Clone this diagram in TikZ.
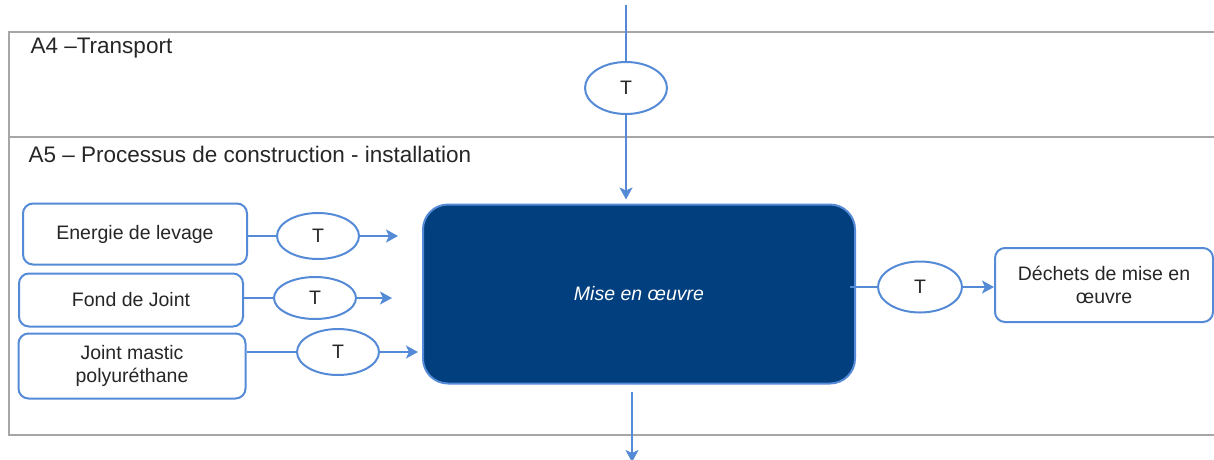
\documentclass[tikz,border=0pt]{standalone}
\usepackage{fontspec}
\setmainfont{Liberation Sans}
\usetikzlibrary{shapes.geometric,arrows.meta}
\definecolor{lineblue}{RGB}{85,138,214}
\definecolor{navy}{RGB}{1,63,126}
\definecolor{framegray}{RGB}{166,166,166}
\definecolor{txt}{RGB}{38,38,38}
\tikzset{
  every node/.style={font=\fontsize{19.5}{23}\selectfont, text=txt},
  heading/.style={anchor=west, font=\fontsize{22.5}{26}\selectfont},
  framel/.style={draw=framegray, line width=2pt},
  inbox/.style={draw=lineblue, line width=2pt, rounded corners=10pt, fill=white, align=center, inner sep=0pt},
  tell/.style={ellipse, draw=lineblue, line width=2pt, minimum width=82pt, minimum height=46pt, inner sep=0pt, fill=white},
  conn/.style={draw=lineblue, line width=2pt},
  arr/.style={conn, -{Stealth[length=12pt,width=13pt,inset=3pt]}},
}
\begin{document}
\begin{tikzpicture}[x=1pt,y=-1pt]
\useasboundingbox (0,0) rectangle (1214,459);
% frame
\draw[framel] (9,32) -- (1214,32);
\draw[framel] (9,137) -- (1214,137);
\draw[framel] (9,435) -- (1214,435);
\draw[framel] (9,31) -- (9,436);
\node[heading] (a4) at (27,48) {A4 --Transport};
\node[heading] (a5) at (25,154) {A5 -- Processus de construction - installation};
% main box
\node[draw=lineblue, line width=2pt, fill=navy, rounded corners=25pt, minimum width=432pt, minimum height=179pt, text=white, font=\fontsize{19.5}{23}\selectfont\itshape] (main) at (639,294) {Mise en œuvre};
% top
\coordinate (topin) at (626,5);
\node[tell, minimum height=52pt] (tT) at (626,88) {T};
\draw[conn] (topin) -- (tT.north);
\draw[arr, shorten >=4pt] (tT.south) -- (tT.south |- main.north);
% left boxes
\node[inbox, minimum width=224pt, minimum height=61pt] (b1) at (135,234) {Energie de levage};
\node[inbox, minimum width=224pt, minimum height=53pt] (b2) at (131,300) {Fond de Joint};
\node[inbox, minimum width=227pt, minimum height=65pt] (b3) at (132,366) {Joint mastic\\polyuréthane};
\node[tell] (t1) at (318,236) {T};
\node[tell, minimum height=42pt] (t2) at (315,298) {T};
\node[tell] (t3) at (338,352) {T};
\coordinate (e1) at (398,236);
\coordinate (e2) at (392,298);
\coordinate (e3) at (418,352);
\draw[conn] (b1.east |- t1) -- (t1.west);
\draw[arr] (t1.east) -- (e1);
\draw[conn] (b2.east |- t2) -- (t2.west);
\draw[arr] (t2.east) -- (e2);
\draw[conn] (b3.east |- t3) -- (t3.west);
\draw[arr] (t3.east) -- (e3);
% right
\node[tell, minimum height=51pt, minimum width=84pt] (t4) at (920,287) {T};
\node[inbox, minimum width=218pt, minimum height=74pt] (dech) at (1104,285) {Déchets de mise en\\œuvre};
\draw[conn] ([xshift=-6pt]main.east |- t4) -- (t4.west);
\draw[arr] (t4.east) -- (dech.west |- t4);
% bottom
\coordinate (be) at (632,462);
\draw[arr, shorten <=7pt] (be |- main.south) -- (be);
\end{tikzpicture}
\end{document}
